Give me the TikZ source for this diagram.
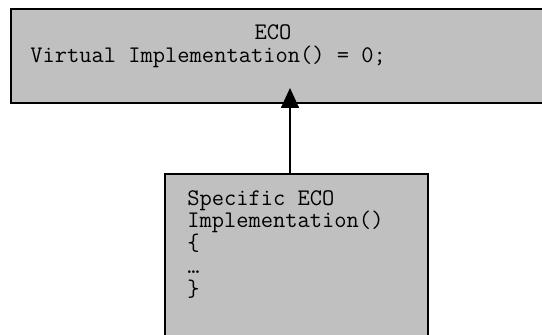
\documentclass[tikz,border=0pt]{standalone}
\usetikzlibrary{positioning,arrows.meta}
\definecolor{boxgray}{RGB}{192,192,192}
\tikzset{classbox/.style={draw=black,line width=1pt,fill=boxgray,inner sep=0pt},
	code/.style={font=\ttfamily\fontsize{11.9}{11.35}\selectfont,inner sep=0pt,align=left}}

\begin{document}
\begin{tikzpicture}[x=0.5pt,y=-0.5pt]
	\useasboundingbox (0,0) rectangle (542,335);
	\clip (0,0) rectangle (542,335);
	% base class and the derived one below it
	\node[classbox,minimum width=268.5pt,minimum height=47pt] (base) at (279.5,56) {};
	\node[classbox,minimum width=131.5pt,minimum height=85.5pt] (derived) at (296.5,259.5) {};
	\node[code,anchor=base] (eco) at (273,40) {ECO};
	\node[code,anchor=base west] (virtual) at (30,63) {Virtual Implementation() = 0;};
	\node[code,anchor=north west] (specific) at (187,190) {Specific ECO\\Implementation()\\\{\\…\\\}};
	% inheritance arrow
	\coordinate (tip) at (290,88);
	\draw[line width=0.8pt,-{Triangle[length=10pt,width=9pt]}] (derived.north -| tip) -- (tip);
\end{tikzpicture}
\end{document}
